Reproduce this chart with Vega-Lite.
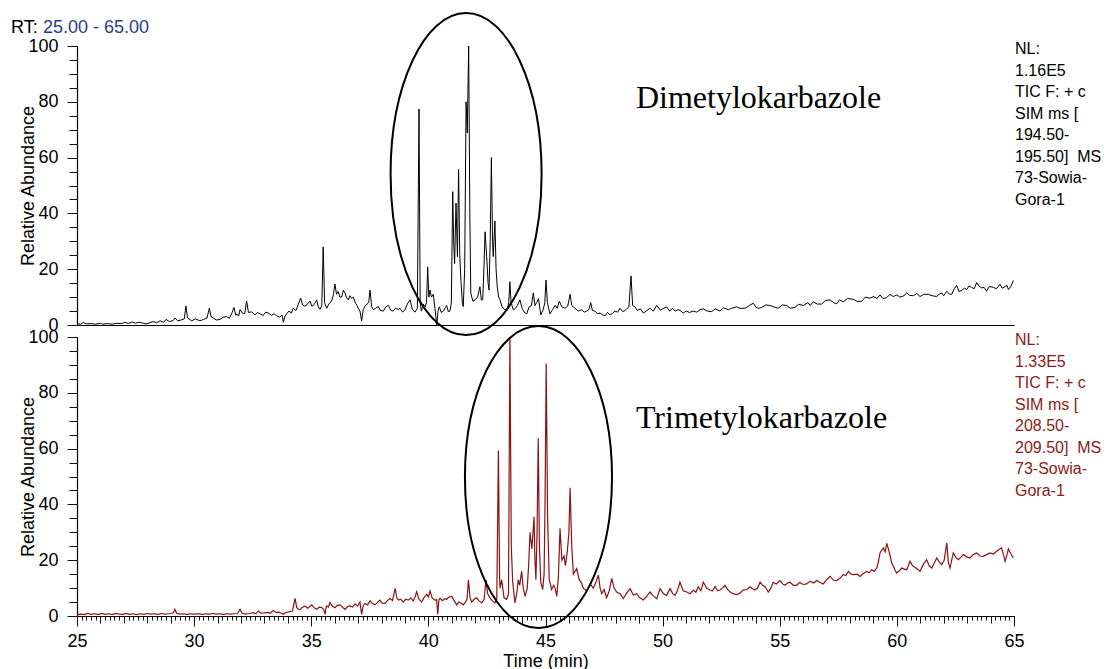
{
  "$schema": "https://vega.github.io/schema/vega-lite/v6.json",
  "padding": {"left": 11, "top": 9, "right": 0, "bottom": 0},
  "background": "white",
  "spacing": 12,
  "bounds": "flush",
  "datasets": {
    "dim": [
      {"t":25.0,"v":0.5},{"t":25.15,"v":0.3},{"t":25.27,"v":0.9},{"t":25.4,"v":0.4},{"t":25.6,"v":0.5},{"t":25.8,"v":0.3},{"t":26.0,"v":0.6},{"t":26.1,"v":0.3},{"t":26.3,"v":0.5},{"t":26.5,"v":0.3},{"t":26.7,"v":0.6},{"t":26.9,"v":0.5},{"t":27.05,"v":1.0},{"t":27.2,"v":0.5},{"t":27.35,"v":1.1},{"t":27.5,"v":0.6},{"t":27.65,"v":1.0},{"t":27.8,"v":0.7},{"t":27.95,"v":0.4},{"t":28.1,"v":0.8},{"t":28.25,"v":1.2},{"t":28.4,"v":0.8},{"t":28.55,"v":1.5},{"t":28.7,"v":1.0},{"t":28.8,"v":2.0},{"t":28.95,"v":1.2},{"t":29.1,"v":1.6},{"t":29.18,"v":2.5},{"t":29.3,"v":1.5},{"t":29.45,"v":1.8},{"t":29.58,"v":2.2},{"t":29.65,"v":6.8},{"t":29.72,"v":2.5},{"t":29.9,"v":1.5},{"t":30.05,"v":2.2},{"t":30.25,"v":1.5},{"t":30.4,"v":2.0},{"t":30.55,"v":2.5},{"t":30.65,"v":6.0},{"t":30.72,"v":3.0},{"t":30.82,"v":2.5},{"t":30.95,"v":1.8},{"t":31.1,"v":2.0},{"t":31.25,"v":2.8},{"t":31.39,"v":3.0},{"t":31.5,"v":2.4},{"t":31.6,"v":4.0},{"t":31.7,"v":6.3},{"t":31.78,"v":3.5},{"t":31.82,"v":4.0},{"t":31.9,"v":3.2},{"t":31.96,"v":5.5},{"t":32.07,"v":4.2},{"t":32.16,"v":4.0},{"t":32.24,"v":8.6},{"t":32.32,"v":4.5},{"t":32.46,"v":4.7},{"t":32.6,"v":3.6},{"t":32.7,"v":4.5},{"t":32.81,"v":4.0},{"t":32.95,"v":3.4},{"t":33.05,"v":4.6},{"t":33.17,"v":4.3},{"t":33.3,"v":3.5},{"t":33.42,"v":4.0},{"t":33.52,"v":3.3},{"t":33.65,"v":2.8},{"t":33.75,"v":3.6},{"t":33.81,"v":1.0},{"t":33.88,"v":3.2},{"t":33.95,"v":4.0},{"t":34.05,"v":5.0},{"t":34.15,"v":4.3},{"t":34.23,"v":6.0},{"t":34.35,"v":5.2},{"t":34.45,"v":7.5},{"t":34.55,"v":9.6},{"t":34.63,"v":7.2},{"t":34.73,"v":6.7},{"t":34.85,"v":7.6},{"t":34.95,"v":8.6},{"t":35.02,"v":6.8},{"t":35.09,"v":7.0},{"t":35.17,"v":8.0},{"t":35.23,"v":9.0},{"t":35.3,"v":6.5},{"t":35.37,"v":5.6},{"t":35.45,"v":7.0},{"t":35.51,"v":28.0},{"t":35.57,"v":8.0},{"t":35.66,"v":6.0},{"t":35.75,"v":7.5},{"t":35.87,"v":8.6},{"t":35.95,"v":11.0},{"t":36.01,"v":14.7},{"t":36.08,"v":11.0},{"t":36.15,"v":12.0},{"t":36.22,"v":10.0},{"t":36.3,"v":10.0},{"t":36.37,"v":12.5},{"t":36.44,"v":11.5},{"t":36.5,"v":10.0},{"t":36.58,"v":9.0},{"t":36.65,"v":10.5},{"t":36.72,"v":9.5},{"t":36.8,"v":10.0},{"t":36.88,"v":8.0},{"t":36.95,"v":7.0},{"t":37.01,"v":6.0},{"t":37.08,"v":5.0},{"t":37.15,"v":1.5},{"t":37.22,"v":5.5},{"t":37.29,"v":6.7},{"t":37.38,"v":7.5},{"t":37.45,"v":8.0},{"t":37.51,"v":12.5},{"t":37.58,"v":6.5},{"t":37.65,"v":5.5},{"t":37.75,"v":6.0},{"t":37.86,"v":6.7},{"t":37.95,"v":5.2},{"t":38.08,"v":5.0},{"t":38.18,"v":6.5},{"t":38.29,"v":7.0},{"t":38.4,"v":5.2},{"t":38.5,"v":5.0},{"t":38.6,"v":6.0},{"t":38.72,"v":5.5},{"t":38.79,"v":6.0},{"t":38.9,"v":4.6},{"t":39.0,"v":5.5},{"t":39.1,"v":7.5},{"t":39.22,"v":9.0},{"t":39.32,"v":5.5},{"t":39.43,"v":4.6},{"t":39.53,"v":6.0},{"t":39.6,"v":77.4},{"t":39.65,"v":8.0},{"t":39.7,"v":5.0},{"t":39.78,"v":7.5},{"t":39.86,"v":6.5},{"t":39.92,"v":8.0},{"t":39.97,"v":20.8},{"t":40.02,"v":10.0},{"t":40.07,"v":12.5},{"t":40.13,"v":10.0},{"t":40.21,"v":11.0},{"t":40.28,"v":6.0},{"t":40.36,"v":0.0},{"t":40.41,"v":5.0},{"t":40.47,"v":6.5},{"t":40.55,"v":4.5},{"t":40.64,"v":5.0},{"t":40.72,"v":6.2},{"t":40.78,"v":7.0},{"t":40.85,"v":4.8},{"t":40.92,"v":5.0},{"t":40.98,"v":8.0},{"t":41.04,"v":47.8},{"t":41.08,"v":30.0},{"t":41.12,"v":22.0},{"t":41.18,"v":43.7},{"t":41.24,"v":24.5},{"t":41.29,"v":55.8},{"t":41.34,"v":25.0},{"t":41.39,"v":16.0},{"t":41.45,"v":8.0},{"t":41.49,"v":6.6},{"t":41.55,"v":20.0},{"t":41.61,"v":80.0},{"t":41.66,"v":68.8},{"t":41.72,"v":100.0},{"t":41.77,"v":40.0},{"t":41.81,"v":11.5},{"t":41.9,"v":8.5},{"t":41.99,"v":9.0},{"t":42.1,"v":10.0},{"t":42.2,"v":13.7},{"t":42.26,"v":9.0},{"t":42.32,"v":9.0},{"t":42.37,"v":20.0},{"t":42.42,"v":33.4},{"t":42.49,"v":24.5},{"t":42.55,"v":15.0},{"t":42.59,"v":12.5},{"t":42.64,"v":30.0},{"t":42.69,"v":60.0},{"t":42.74,"v":30.0},{"t":42.77,"v":24.5},{"t":42.84,"v":37.3},{"t":42.89,"v":20.0},{"t":42.94,"v":13.7},{"t":43.0,"v":10.0},{"t":43.06,"v":9.0},{"t":43.15,"v":6.5},{"t":43.27,"v":5.4},{"t":43.37,"v":6.0},{"t":43.43,"v":8.0},{"t":43.48,"v":15.5},{"t":43.53,"v":8.0},{"t":43.63,"v":5.4},{"t":43.72,"v":6.0},{"t":43.8,"v":7.0},{"t":43.91,"v":9.0},{"t":44.0,"v":6.0},{"t":44.1,"v":4.5},{"t":44.2,"v":4.0},{"t":44.3,"v":6.5},{"t":44.4,"v":7.0},{"t":44.48,"v":11.5},{"t":44.55,"v":7.0},{"t":44.62,"v":8.0},{"t":44.7,"v":9.5},{"t":44.8,"v":3.6},{"t":44.9,"v":5.5},{"t":44.97,"v":8.0},{"t":45.02,"v":16.1},{"t":45.08,"v":8.0},{"t":45.19,"v":4.0},{"t":45.3,"v":5.5},{"t":45.41,"v":7.0},{"t":45.5,"v":6.0},{"t":45.59,"v":8.5},{"t":45.7,"v":6.5},{"t":45.83,"v":6.0},{"t":45.95,"v":6.8},{"t":46.05,"v":11.0},{"t":46.12,"v":7.0},{"t":46.26,"v":6.0},{"t":46.4,"v":5.0},{"t":46.55,"v":5.5},{"t":46.65,"v":4.6},{"t":46.76,"v":5.0},{"t":46.85,"v":5.5},{"t":46.93,"v":8.0},{"t":47.0,"v":5.2},{"t":47.11,"v":5.0},{"t":47.22,"v":4.0},{"t":47.33,"v":4.3},{"t":47.44,"v":3.6},{"t":47.54,"v":3.3},{"t":47.65,"v":4.5},{"t":47.75,"v":3.6},{"t":47.86,"v":4.2},{"t":47.97,"v":5.0},{"t":48.08,"v":4.6},{"t":48.18,"v":6.0},{"t":48.3,"v":4.8},{"t":48.4,"v":5.2},{"t":48.49,"v":6.0},{"t":48.56,"v":6.5},{"t":48.65,"v":17.6},{"t":48.72,"v":7.0},{"t":48.82,"v":6.5},{"t":48.92,"v":5.2},{"t":49.05,"v":5.8},{"t":49.18,"v":4.3},{"t":49.3,"v":5.0},{"t":49.46,"v":6.0},{"t":49.6,"v":5.0},{"t":49.75,"v":7.0},{"t":49.9,"v":5.3},{"t":50.05,"v":6.0},{"t":50.17,"v":6.5},{"t":50.3,"v":5.0},{"t":50.42,"v":6.0},{"t":50.53,"v":5.0},{"t":50.7,"v":5.5},{"t":50.88,"v":4.3},{"t":51.0,"v":5.0},{"t":51.15,"v":4.5},{"t":51.31,"v":5.0},{"t":51.45,"v":4.6},{"t":51.6,"v":5.5},{"t":51.74,"v":5.8},{"t":51.9,"v":5.0},{"t":52.09,"v":4.8},{"t":52.25,"v":5.8},{"t":52.45,"v":5.0},{"t":52.6,"v":6.2},{"t":52.8,"v":5.5},{"t":52.95,"v":6.0},{"t":53.16,"v":6.5},{"t":53.3,"v":6.0},{"t":53.52,"v":6.0},{"t":53.7,"v":7.0},{"t":53.87,"v":7.8},{"t":54.0,"v":6.2},{"t":54.1,"v":6.0},{"t":54.23,"v":6.3},{"t":54.4,"v":7.2},{"t":54.58,"v":7.0},{"t":54.75,"v":6.5},{"t":54.94,"v":6.0},{"t":55.1,"v":7.2},{"t":55.3,"v":7.0},{"t":55.45,"v":6.0},{"t":55.65,"v":6.3},{"t":55.8,"v":7.4},{"t":56.01,"v":7.0},{"t":56.2,"v":8.0},{"t":56.3,"v":7.0},{"t":56.43,"v":8.3},{"t":56.6,"v":7.5},{"t":56.79,"v":7.5},{"t":56.95,"v":8.8},{"t":57.15,"v":9.0},{"t":57.3,"v":8.0},{"t":57.43,"v":7.6},{"t":57.55,"v":9.0},{"t":57.71,"v":8.3},{"t":57.9,"v":9.5},{"t":58.14,"v":9.2},{"t":58.3,"v":8.5},{"t":58.5,"v":8.5},{"t":58.65,"v":10.0},{"t":58.85,"v":9.6},{"t":59.0,"v":10.2},{"t":59.15,"v":9.5},{"t":59.28,"v":10.8},{"t":59.4,"v":9.5},{"t":59.57,"v":9.8},{"t":59.7,"v":11.0},{"t":59.85,"v":10.2},{"t":60.0,"v":10.8},{"t":60.13,"v":10.0},{"t":60.3,"v":10.5},{"t":60.42,"v":11.5},{"t":60.55,"v":10.6},{"t":60.7,"v":10.5},{"t":60.85,"v":11.3},{"t":60.99,"v":10.2},{"t":61.15,"v":11.0},{"t":61.34,"v":11.0},{"t":61.5,"v":10.5},{"t":61.7,"v":10.2},{"t":61.8,"v":11.0},{"t":61.91,"v":11.5},{"t":62.0,"v":10.5},{"t":62.13,"v":12.1},{"t":62.25,"v":11.0},{"t":62.34,"v":11.0},{"t":62.45,"v":13.0},{"t":62.55,"v":14.2},{"t":62.65,"v":12.0},{"t":62.77,"v":12.4},{"t":62.88,"v":13.2},{"t":62.98,"v":12.7},{"t":63.08,"v":14.0},{"t":63.19,"v":13.5},{"t":63.3,"v":13.0},{"t":63.41,"v":15.2},{"t":63.5,"v":14.0},{"t":63.62,"v":13.3},{"t":63.72,"v":13.5},{"t":63.83,"v":12.1},{"t":63.95,"v":13.8},{"t":64.12,"v":13.5},{"t":64.25,"v":13.0},{"t":64.4,"v":14.6},{"t":64.5,"v":13.2},{"t":64.62,"v":13.8},{"t":64.7,"v":14.2},{"t":64.76,"v":12.7},{"t":64.88,"v":14.0},{"t":64.97,"v":16.0}
    ],
    "tri": [
      {"t":25.0,"v":0.4},{"t":25.15,"v":0.7},{"t":25.3,"v":0.5},{"t":25.45,"v":0.9},{"t":25.6,"v":0.6},{"t":25.75,"v":0.8},{"t":25.9,"v":0.5},{"t":26.05,"v":0.9},{"t":26.2,"v":0.6},{"t":26.35,"v":0.8},{"t":26.5,"v":0.5},{"t":26.65,"v":0.9},{"t":26.8,"v":0.7},{"t":26.95,"v":0.6},{"t":27.1,"v":0.9},{"t":27.25,"v":0.6},{"t":27.4,"v":0.8},{"t":27.55,"v":0.5},{"t":27.7,"v":0.8},{"t":27.85,"v":0.6},{"t":28.0,"v":0.9},{"t":28.15,"v":0.7},{"t":28.3,"v":0.8},{"t":28.45,"v":0.6},{"t":28.6,"v":0.9},{"t":28.75,"v":0.7},{"t":28.9,"v":0.8},{"t":29.05,"v":0.9},{"t":29.12,"v":1.2},{"t":29.18,"v":2.4},{"t":29.25,"v":1.0},{"t":29.4,"v":0.7},{"t":29.55,"v":0.8},{"t":29.7,"v":0.6},{"t":29.85,"v":0.8},{"t":30.0,"v":0.7},{"t":30.2,"v":0.8},{"t":30.35,"v":0.6},{"t":30.5,"v":0.8},{"t":30.65,"v":0.7},{"t":30.8,"v":0.9},{"t":30.95,"v":0.7},{"t":31.1,"v":0.8},{"t":31.25,"v":0.6},{"t":31.4,"v":0.8},{"t":31.55,"v":0.7},{"t":31.7,"v":0.8},{"t":31.85,"v":0.9},{"t":31.96,"v":2.4},{"t":32.05,"v":1.0},{"t":32.2,"v":0.7},{"t":32.35,"v":0.9},{"t":32.53,"v":1.2},{"t":32.64,"v":0.8},{"t":32.74,"v":1.8},{"t":32.85,"v":1.0},{"t":33.0,"v":1.1},{"t":33.15,"v":1.3},{"t":33.25,"v":1.0},{"t":33.38,"v":2.0},{"t":33.5,"v":1.2},{"t":33.62,"v":1.4},{"t":33.72,"v":1.0},{"t":33.81,"v":0.6},{"t":33.9,"v":1.2},{"t":34.0,"v":1.4},{"t":34.09,"v":1.6},{"t":34.2,"v":1.8},{"t":34.31,"v":6.3},{"t":34.38,"v":3.0},{"t":34.45,"v":2.5},{"t":34.52,"v":2.2},{"t":34.6,"v":3.0},{"t":34.73,"v":3.6},{"t":34.85,"v":2.8},{"t":34.95,"v":3.5},{"t":35.02,"v":4.0},{"t":35.12,"v":3.0},{"t":35.23,"v":2.4},{"t":35.35,"v":3.2},{"t":35.45,"v":3.0},{"t":35.52,"v":2.5},{"t":35.59,"v":0.6},{"t":35.63,"v":3.0},{"t":35.66,"v":3.6},{"t":35.73,"v":3.2},{"t":35.8,"v":4.8},{"t":35.9,"v":3.6},{"t":36.01,"v":3.0},{"t":36.12,"v":3.8},{"t":36.23,"v":4.0},{"t":36.33,"v":3.2},{"t":36.44,"v":2.4},{"t":36.55,"v":3.4},{"t":36.65,"v":3.6},{"t":36.76,"v":3.2},{"t":36.87,"v":4.3},{"t":36.98,"v":3.6},{"t":37.08,"v":5.0},{"t":37.15,"v":0.6},{"t":37.22,"v":3.8},{"t":37.29,"v":4.5},{"t":37.4,"v":4.0},{"t":37.51,"v":5.5},{"t":37.6,"v":4.6},{"t":37.72,"v":4.0},{"t":37.82,"v":4.8},{"t":37.93,"v":5.7},{"t":38.03,"v":4.6},{"t":38.15,"v":4.5},{"t":38.25,"v":5.5},{"t":38.36,"v":6.3},{"t":38.47,"v":5.6},{"t":38.58,"v":9.9},{"t":38.65,"v":6.5},{"t":38.72,"v":5.7},{"t":38.82,"v":6.0},{"t":38.93,"v":5.0},{"t":39.03,"v":6.0},{"t":39.14,"v":5.7},{"t":39.25,"v":6.5},{"t":39.35,"v":5.4},{"t":39.43,"v":6.8},{"t":39.5,"v":8.7},{"t":39.6,"v":6.0},{"t":39.71,"v":5.0},{"t":39.8,"v":6.4},{"t":39.93,"v":7.8},{"t":40.0,"v":6.8},{"t":40.07,"v":9.0},{"t":40.16,"v":6.5},{"t":40.28,"v":5.7},{"t":40.35,"v":5.8},{"t":40.4,"v":0.6},{"t":40.45,"v":5.8},{"t":40.5,"v":6.3},{"t":40.6,"v":5.5},{"t":40.7,"v":6.2},{"t":40.78,"v":6.0},{"t":40.88,"v":6.8},{"t":41.0,"v":7.0},{"t":41.1,"v":5.5},{"t":41.21,"v":4.0},{"t":41.3,"v":5.0},{"t":41.4,"v":4.6},{"t":41.49,"v":4.0},{"t":41.58,"v":5.0},{"t":41.65,"v":6.0},{"t":41.71,"v":13.0},{"t":41.78,"v":6.5},{"t":41.85,"v":5.0},{"t":41.95,"v":6.0},{"t":42.06,"v":6.5},{"t":42.15,"v":5.5},{"t":42.28,"v":4.7},{"t":42.38,"v":6.0},{"t":42.46,"v":12.9},{"t":42.53,"v":8.0},{"t":42.63,"v":6.5},{"t":42.72,"v":5.5},{"t":42.84,"v":4.7},{"t":42.92,"v":6.0},{"t":42.99,"v":59.3},{"t":43.04,"v":14.0},{"t":43.06,"v":10.0},{"t":43.13,"v":13.0},{"t":43.23,"v":6.5},{"t":43.34,"v":6.0},{"t":43.42,"v":8.0},{"t":43.48,"v":100.0},{"t":43.54,"v":25.0},{"t":43.6,"v":12.0},{"t":43.7,"v":4.7},{"t":43.77,"v":8.0},{"t":43.84,"v":13.0},{"t":43.9,"v":11.0},{"t":43.98,"v":16.0},{"t":44.05,"v":10.0},{"t":44.13,"v":7.0},{"t":44.22,"v":10.0},{"t":44.28,"v":18.0},{"t":44.34,"v":30.0},{"t":44.42,"v":24.0},{"t":44.51,"v":35.6},{"t":44.55,"v":20.0},{"t":44.59,"v":13.0},{"t":44.64,"v":30.0},{"t":44.69,"v":63.7},{"t":44.74,"v":25.0},{"t":44.8,"v":12.0},{"t":44.88,"v":9.5},{"t":44.94,"v":15.0},{"t":44.98,"v":40.0},{"t":45.03,"v":90.5},{"t":45.09,"v":35.0},{"t":45.16,"v":13.0},{"t":45.26,"v":9.5},{"t":45.35,"v":11.0},{"t":45.41,"v":10.0},{"t":45.48,"v":7.0},{"t":45.55,"v":14.0},{"t":45.62,"v":31.4},{"t":45.7,"v":20.0},{"t":45.79,"v":21.5},{"t":45.85,"v":18.0},{"t":45.93,"v":23.0},{"t":46.0,"v":30.0},{"t":46.05,"v":46.0},{"t":46.12,"v":25.0},{"t":46.19,"v":15.0},{"t":46.33,"v":17.0},{"t":46.44,"v":13.0},{"t":46.53,"v":12.0},{"t":46.61,"v":10.0},{"t":46.76,"v":9.0},{"t":46.9,"v":11.5},{"t":47.04,"v":10.0},{"t":47.15,"v":12.0},{"t":47.26,"v":14.7},{"t":47.33,"v":10.0},{"t":47.4,"v":8.0},{"t":47.5,"v":9.5},{"t":47.61,"v":6.6},{"t":47.72,"v":9.0},{"t":47.83,"v":13.5},{"t":47.93,"v":10.0},{"t":48.04,"v":8.6},{"t":48.18,"v":8.0},{"t":48.32,"v":6.2},{"t":48.45,"v":8.0},{"t":48.61,"v":9.8},{"t":48.75,"v":7.5},{"t":48.89,"v":8.0},{"t":49.03,"v":6.5},{"t":49.18,"v":5.7},{"t":49.32,"v":7.0},{"t":49.46,"v":8.6},{"t":49.6,"v":7.2},{"t":49.75,"v":6.2},{"t":49.89,"v":9.8},{"t":50.03,"v":8.0},{"t":50.17,"v":7.4},{"t":50.32,"v":9.8},{"t":50.43,"v":8.0},{"t":50.53,"v":7.4},{"t":50.63,"v":9.0},{"t":50.74,"v":12.1},{"t":50.88,"v":9.0},{"t":51.03,"v":8.6},{"t":51.17,"v":8.0},{"t":51.31,"v":9.3},{"t":51.42,"v":8.5},{"t":51.52,"v":10.5},{"t":51.63,"v":9.0},{"t":51.74,"v":12.1},{"t":51.88,"v":10.0},{"t":52.02,"v":9.3},{"t":52.13,"v":9.0},{"t":52.24,"v":10.5},{"t":52.35,"v":9.0},{"t":52.45,"v":9.3},{"t":52.55,"v":10.0},{"t":52.66,"v":11.0},{"t":52.77,"v":9.5},{"t":52.88,"v":8.6},{"t":53.0,"v":8.0},{"t":53.16,"v":7.7},{"t":53.3,"v":8.2},{"t":53.44,"v":9.3},{"t":53.6,"v":9.5},{"t":53.73,"v":10.5},{"t":53.84,"v":9.8},{"t":53.94,"v":9.3},{"t":54.05,"v":10.0},{"t":54.16,"v":12.1},{"t":54.27,"v":11.0},{"t":54.37,"v":10.5},{"t":54.45,"v":9.5},{"t":54.51,"v":8.6},{"t":54.62,"v":10.0},{"t":54.72,"v":12.1},{"t":54.85,"v":11.5},{"t":55.01,"v":12.7},{"t":55.12,"v":11.5},{"t":55.22,"v":11.0},{"t":55.33,"v":11.8},{"t":55.44,"v":12.1},{"t":55.58,"v":11.0},{"t":55.72,"v":11.0},{"t":55.85,"v":12.0},{"t":56.0,"v":11.3},{"t":56.15,"v":11.5},{"t":56.3,"v":12.5},{"t":56.45,"v":11.8},{"t":56.58,"v":12.7},{"t":56.72,"v":12.0},{"t":56.86,"v":11.5},{"t":57.0,"v":13.0},{"t":57.15,"v":14.2},{"t":57.3,"v":12.8},{"t":57.43,"v":12.7},{"t":57.57,"v":13.5},{"t":57.71,"v":14.8},{"t":57.82,"v":14.5},{"t":57.93,"v":16.0},{"t":58.04,"v":15.0},{"t":58.14,"v":14.8},{"t":58.3,"v":15.0},{"t":58.43,"v":14.2},{"t":58.57,"v":15.2},{"t":58.71,"v":16.0},{"t":58.82,"v":15.5},{"t":58.92,"v":16.6},{"t":59.03,"v":16.0},{"t":59.14,"v":17.2},{"t":59.2,"v":19.0},{"t":59.28,"v":22.6},{"t":59.35,"v":23.5},{"t":59.42,"v":24.4},{"t":59.5,"v":23.0},{"t":59.57,"v":26.0},{"t":59.64,"v":24.0},{"t":59.71,"v":21.6},{"t":59.78,"v":19.0},{"t":59.85,"v":17.8},{"t":59.92,"v":16.5},{"t":59.99,"v":15.4},{"t":60.1,"v":16.2},{"t":60.21,"v":17.2},{"t":60.32,"v":16.8},{"t":60.42,"v":16.6},{"t":60.49,"v":18.0},{"t":60.56,"v":19.6},{"t":60.63,"v":18.5},{"t":60.7,"v":17.8},{"t":60.85,"v":17.0},{"t":60.99,"v":16.0},{"t":61.13,"v":18.5},{"t":61.27,"v":20.2},{"t":61.38,"v":18.0},{"t":61.49,"v":17.2},{"t":61.6,"v":19.0},{"t":61.7,"v":20.8},{"t":61.8,"v":19.5},{"t":61.91,"v":18.4},{"t":62.02,"v":20.0},{"t":62.13,"v":26.2},{"t":62.2,"v":19.0},{"t":62.27,"v":17.2},{"t":62.34,"v":20.0},{"t":62.41,"v":22.6},{"t":62.52,"v":21.0},{"t":62.62,"v":20.2},{"t":62.73,"v":21.0},{"t":62.84,"v":22.0},{"t":62.98,"v":21.2},{"t":63.12,"v":20.8},{"t":63.26,"v":22.0},{"t":63.41,"v":22.6},{"t":63.55,"v":21.5},{"t":63.69,"v":21.4},{"t":63.83,"v":22.0},{"t":63.98,"v":22.6},{"t":64.12,"v":22.2},{"t":64.26,"v":23.2},{"t":64.36,"v":23.8},{"t":64.47,"v":24.4},{"t":64.55,"v":22.0},{"t":64.62,"v":19.6},{"t":64.7,"v":22.0},{"t":64.76,"v":24.0},{"t":64.85,"v":22.5},{"t":64.97,"v":20.8}
    ],
    "anno": [
      {"key":"ell_top","t":41.61,"v":54.1},
      {"key":"ell_bot","t":44.7,"v":49.8},
      {"key":"name_top","t":48.86,"v":77.6,"label":"Dimetylokarbazole"},
      {"key":"name_bot","t":48.86,"v":67.4,"label":"Trimetylokarbazole"},
      {"key":"nl_top","t":65,"v":100,"label":"NL:\n1.16E5\nTIC F: + c\nSIM ms [\n194.50-\n195.50]\u00a0 MS\n73-Sowia-\nGora-1"},
      {"key":"nl_bot","t":65,"v":100,"label":"NL:\n1.33E5\nTIC F: + c\nSIM ms [\n208.50-\n209.50]\u00a0 MS\n73-Sowia-\nGora-1"},
      {"key":"rt","t":25,"v":100,"label":"RT:"},
      {"key":"range","t":25,"v":100,"label":"25.00 - 65.00"}
    ]
  },
  "vconcat": [
    {
      "width": 937,
      "height": 279,
      "layer": [
        {
          "data": {"name": "dim"},
          "mark": {"type": "line", "color": "#000000", "strokeWidth": 1},
          "encoding": {
            "x": {"field": "t", "type": "quantitative", "scale": {"domain": [25, 65], "nice": false, "zero": false},
                  "axis": {"orient": "bottom", "title": null, "labels": false, "ticks": false, "domain": true, "domainColor": "#000000", "domainWidth": 1.2}},
            "y": {"field": "v", "type": "quantitative", "scale": {"domain": [0, 100], "nice": false},
                  "axis": {"orient": "left", "values": [0, 20, 40, 60, 80, 100], "tickSize": 10, "labelPadding": 9, "domain": true, "domainColor": "#000000", "domainWidth": 1.2, "title": "Relative Abundance", "titleX": -49, "titleY": 139.5, "titleAngle": -90, "titleAlign": "center", "titleBaseline": "middle"}}
          }
        },
        {
          "data": {"name": "anno"},
          "transform": [{"filter": "datum.key === 'ell_top'"}],
          "mark": {"type": "point", "shape": "M0,-1C0.259,-1,0.469,-0.552,0.469,0C0.469,0.552,0.259,1,0,1C-0.259,1,-0.469,0.552,-0.469,0C-0.469,-0.552,-0.259,-1,0,-1Z", "size": 103684, "filled": false, "color": "#000000", "strokeWidth": 2, "opacity": 1},
          "encoding": {
            "x": {"field": "t", "type": "quantitative", "scale": {"domain": [25, 65], "nice": false, "zero": false}, "axis": null},
            "y": {"field": "v", "type": "quantitative", "scale": {"domain": [0, 100], "nice": false},
                  "axis": {"orient": "left", "values": [0,5,10,15,20,25,30,35,40,45,50,55,60,65,70,75,80,85,90,95,100], "tickSize": 8, "labels": false, "domain": false, "title": null}}
          }
        },
        {
          "data": {"name": "anno"},
          "transform": [{"filter": "datum.key === 'name_top'"}],
          "mark": {"type": "text", "font": "Liberation Serif", "fontSize": 32, "align": "left", "baseline": "alphabetic", "color": "#000000"},
          "encoding": {
            "x": {"field": "t", "type": "quantitative", "scale": {"domain": [25, 65], "nice": false, "zero": false}, "axis": null},
            "y": {"field": "v", "type": "quantitative", "scale": {"domain": [0, 100], "nice": false}, "axis": null},
            "text": {"field": "label"}
          }
        },
        {
          "data": {"name": "anno"},
          "transform": [{"filter": "datum.key === 'nl_top'"}],
          "mark": {"type": "text", "font": "Liberation Sans", "fontSize": 16, "lineHeight": 21.5, "lineBreak": "\n", "align": "left", "baseline": "top", "dx": 1, "dy": -5, "color": "#000000"},
          "encoding": {
            "x": {"field": "t", "type": "quantitative", "scale": {"domain": [25, 65], "nice": false, "zero": false}, "axis": null},
            "y": {"field": "v", "type": "quantitative", "scale": {"domain": [0, 100], "nice": false}, "axis": null},
            "text": {"field": "label"}
          }
        },
        {
          "data": {"name": "anno"},
          "transform": [{"filter": "datum.key === 'rt'"}],
          "mark": {"type": "text", "font": "Liberation Sans", "fontSize": 18, "align": "left", "baseline": "alphabetic", "dx": -66, "dy": -13, "color": "#000000"},
          "encoding": {
            "x": {"field": "t", "type": "quantitative", "scale": {"domain": [25, 65], "nice": false, "zero": false}, "axis": null},
            "y": {"field": "v", "type": "quantitative", "scale": {"domain": [0, 100], "nice": false}, "axis": null},
            "text": {"field": "label"}
          }
        },
        {
          "data": {"name": "anno"},
          "transform": [{"filter": "datum.key === 'range'"}],
          "mark": {"type": "text", "font": "Liberation Sans", "fontSize": 18, "align": "left", "baseline": "alphabetic", "dx": -34, "dy": -13, "color": "#2e3a8c"},
          "encoding": {
            "x": {"field": "t", "type": "quantitative", "scale": {"domain": [25, 65], "nice": false, "zero": false}, "axis": null},
            "y": {"field": "v", "type": "quantitative", "scale": {"domain": [0, 100], "nice": false}, "axis": null},
            "text": {"field": "label"}
          }
        }
      ],
      "resolve": {"axis": {"x": "independent", "y": "independent"}}
    },
    {
      "width": 937,
      "height": 279,
      "layer": [
        {
          "data": {"name": "tri"},
          "mark": {"type": "line", "color": "#8b1313", "strokeWidth": 1.2},
          "encoding": {
            "x": {"field": "t", "type": "quantitative", "scale": {"domain": [25, 65], "nice": false, "zero": false},
                  "axis": {"orient": "bottom", "values": [25, 30, 35, 40, 45, 50, 55, 60, 65], "tickSize": 10, "labelPadding": 6, "domain": true, "domainColor": "#000000", "domainWidth": 1.2, "title": "Time (min)", "titlePadding": 2}},
            "y": {"field": "v", "type": "quantitative", "scale": {"domain": [0, 100], "nice": false},
                  "axis": {"orient": "left", "values": [0, 20, 40, 60, 80, 100], "tickSize": 10, "labelPadding": 9, "domain": true, "domainColor": "#000000", "domainWidth": 1.2, "title": "Relative Abundance", "titleX": -49, "titleY": 139.5, "titleAngle": -90, "titleAlign": "center", "titleBaseline": "middle"}}
          }
        },
        {
          "data": {"name": "anno"},
          "transform": [{"filter": "datum.key === 'ell_bot'"}],
          "mark": {"type": "point", "shape": "M0,-1C0.269,-1,0.487,-0.552,0.487,0C0.487,0.552,0.269,1,0,1C-0.269,1,-0.487,0.552,-0.487,0C-0.487,-0.552,-0.269,-1,0,-1Z", "size": 91204, "filled": false, "color": "#000000", "strokeWidth": 2, "opacity": 1},
          "encoding": {
            "x": {"field": "t", "type": "quantitative", "scale": {"domain": [25, 65], "nice": false, "zero": false},
                  "axis": {"orient": "bottom", "values": [25,26,27,28,29,30,31,32,33,34,35,36,37,38,39,40,41,42,43,44,45,46,47,48,49,50,51,52,53,54,55,56,57,58,59,60,61,62,63,64,65], "tickSize": 7, "labels": false, "domain": false, "title": null}},
            "y": {"field": "v", "type": "quantitative", "scale": {"domain": [0, 100], "nice": false},
                  "axis": {"orient": "left", "values": [0,5,10,15,20,25,30,35,40,45,50,55,60,65,70,75,80,85,90,95,100], "tickSize": 8, "labels": false, "domain": false, "title": null}}
          }
        },
        {
          "data": {"name": "anno"},
          "transform": [{"filter": "datum.key === 'name_bot'"}],
          "mark": {"type": "text", "font": "Liberation Serif", "fontSize": 32, "align": "left", "baseline": "alphabetic", "color": "#000000"},
          "encoding": {
            "x": {"field": "t", "type": "quantitative", "scale": {"domain": [25, 65], "nice": false, "zero": false},
                  "axis": {"orient": "bottom", "tickCount": 200, "tickSize": 4, "labels": false, "domain": false, "title": null}},
            "y": {"field": "v", "type": "quantitative", "scale": {"domain": [0, 100], "nice": false}, "axis": null},
            "text": {"field": "label"}
          }
        },
        {
          "data": {"name": "anno"},
          "transform": [{"filter": "datum.key === 'nl_bot'"}],
          "mark": {"type": "text", "font": "Liberation Sans", "fontSize": 16, "lineHeight": 21.5, "lineBreak": "\n", "align": "left", "baseline": "top", "dx": 1, "dy": -5, "color": "#8b1a1a"},
          "encoding": {
            "x": {"field": "t", "type": "quantitative", "scale": {"domain": [25, 65], "nice": false, "zero": false}, "axis": null},
            "y": {"field": "v", "type": "quantitative", "scale": {"domain": [0, 100], "nice": false}, "axis": null},
            "text": {"field": "label"}
          }
        }
      ],
      "resolve": {"axis": {"x": "independent", "y": "independent"}}
    }
  ],
  "config": {
    "view": {"stroke": null},
    "font": "Liberation Sans",
    "axis": {
      "labelFont": "Liberation Sans", "labelFontSize": 18, "labelColor": "#000000", "labelFlush": false,
      "titleFont": "Liberation Sans", "titleFontSize": 18, "titleFontWeight": "normal", "titleColor": "#000000",
      "domainColor": "#000000", "tickColor": "#111111", "tickWidth": 1, "grid": false
    }
  }
}
